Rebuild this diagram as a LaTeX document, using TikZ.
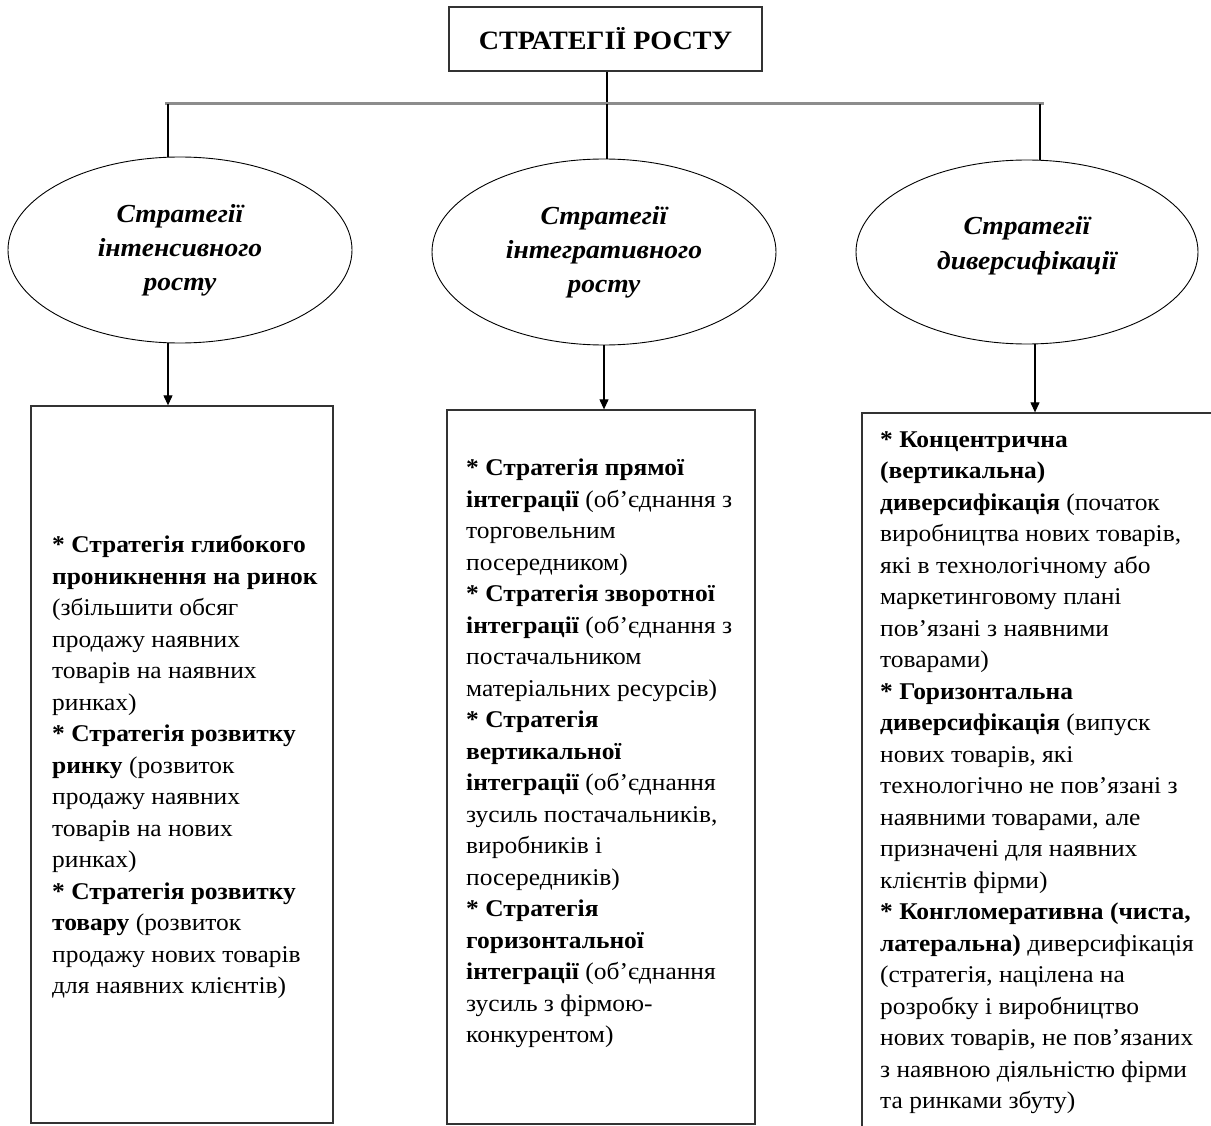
\documentclass[tikz,border=0pt]{standalone}
\usepackage{fontspec}
\setmainfont{Liberation Serif}[FakeStretch=1.06]
\usetikzlibrary{shapes.geometric,arrows.meta}
\begin{document}
\begin{tikzpicture}[x=1pt,y=-1pt,
  conn/.style={draw=black,line width=1.1pt},
  bar/.style={draw=black!45,line width=3pt},
  arr/.style={draw=black,line width=1.1pt,-{Triangle[length=10pt,width=9pt]}},
  framebox/.style={draw=black!80,line width=1.3pt,rectangle,inner sep=0pt},
  oval/.style={draw=black,line width=0.9pt,ellipse,inner sep=0pt,align=center,
    font=\fontsize{26}{34}\selectfont\bfseries\itshape},
  ovaltext/.style={inner sep=0pt,align=center,
    font=\fontsize{26}{35}\selectfont\bfseries\itshape},
  body/.style={anchor=north west,inner sep=0pt,align=left,
    font=\fontsize{24}{31.5}\selectfont}]
\useasboundingbox (0,0) rectangle (1211,1126);
\clip (0,0) rectangle (1211,1126);

% title
\node[framebox,minimum width=313pt,minimum height=64pt,
  font=\fontsize{26.5}{30}\selectfont\bfseries] (title) at (605.5,39) {СТРАТЕГІЇ РОСТУ};

% horizontal bar
\coordinate (hl) at (165,104);
\coordinate (hr) at (1044,104);
\coordinate (c1) at (168,104);
\coordinate (c2) at (607,104);
\coordinate (c3) at (1040,104);

% ellipses
\node[oval,minimum width=344pt,minimum height=186pt] (ell1) at (180,250)
  {Стратегії\\інтенсивного\\росту};
\node[oval,minimum width=344pt,minimum height=186pt] (ell2) at (604,252)
  {Стратегії\\інтегративного\\росту};
\node[oval,minimum width=342pt,minimum height=184pt] (ell3) at (1027,252) {};
\node[ovaltext] (ell3t) at (1027,246) {Стратегії\\диверсифікації};

% boxes
\node[framebox,minimum width=302pt,minimum height=717pt] (box1) at (182,764.5) {};
\node[framebox,minimum width=308pt,minimum height=714pt] (box2) at (601,767) {};
\node[framebox,minimum width=368pt,minimum height=727pt] (box3) at (1046,776.5) {};

% connectors
\draw[conn] (title.south -| c2) -- (c2);
\draw[bar] (hl) -- (hr);
\draw[conn] (c1) -- (c1 |- ell1.north);
\draw[conn] (c2) -- (c2 |- ell2.north);
\draw[conn] (c3) -- (c3 |- ell3.north);
\draw[arr] ([xshift=-12pt]ell1.south) -- ([xshift=-12pt]ell1.south |- box1.north);
\draw[arr] (ell2.south) -- (ell2.south |- box2.north);
\draw[arr] ([xshift=8pt]ell3.south) -- ([xshift=8pt]ell3.south |- box3.north);

% texts
\node[body] (t1) at (52,535.5) {%
\textbf{* Стратегія глибокого}\\
\textbf{проникнення на ринок}\\
(збільшити обсяг\\
продажу наявних\\
товарів на наявних\\
ринках)\\
\textbf{* Стратегія розвитку}\\
\textbf{ринку} (розвиток\\
продажу наявних\\
товарів на нових\\
ринках)\\
\textbf{* Стратегія розвитку}\\
\textbf{товару} (розвиток\\
продажу нових товарів\\
для наявних клієнтів)};

\node[body] (t2) at (466,459) {%
\textbf{* Стратегія прямої}\\
\textbf{інтеграції} (об’єднання з\\
торговельним\\
посередником)\\
\textbf{* Стратегія зворотної}\\
\textbf{інтеграції} (об’єднання з\\
постачальником\\
матеріальних ресурсів)\\
\textbf{* Стратегія}\\
\textbf{вертикальної}\\
\textbf{інтеграції} (об’єднання\\
зусиль постачальників,\\
виробників і\\
посередників)\\
\textbf{* Стратегія}\\
\textbf{горизонтальної}\\
\textbf{інтеграції} (об’єднання\\
зусиль з фірмою-\\
конкурентом)};

\node[body] (t3) at (880,431) {%
\textbf{* Концентрична}\\
\textbf{(вертикальна)}\\
\textbf{диверсифікація} (початок\\
виробництва нових товарів,\\
які в технологічному або\\
маркетинговому плані\\
пов’язані з наявними\\
товарами)\\
\textbf{* Горизонтальна}\\
\textbf{диверсифікація} (випуск\\
нових товарів, які\\
технологічно не пов’язані з\\
наявними товарами, але\\
призначені для наявних\\
клієнтів фірми)\\
\textbf{* Конгломеративна (чиста,}\\
\textbf{латеральна)} диверсифікація\\
(стратегія, націлена на\\
розробку і виробництво\\
нових товарів, не пов’язаних\\
з наявною діяльністю фірми\\
та ринками збуту)};
\end{tikzpicture}
\end{document}
